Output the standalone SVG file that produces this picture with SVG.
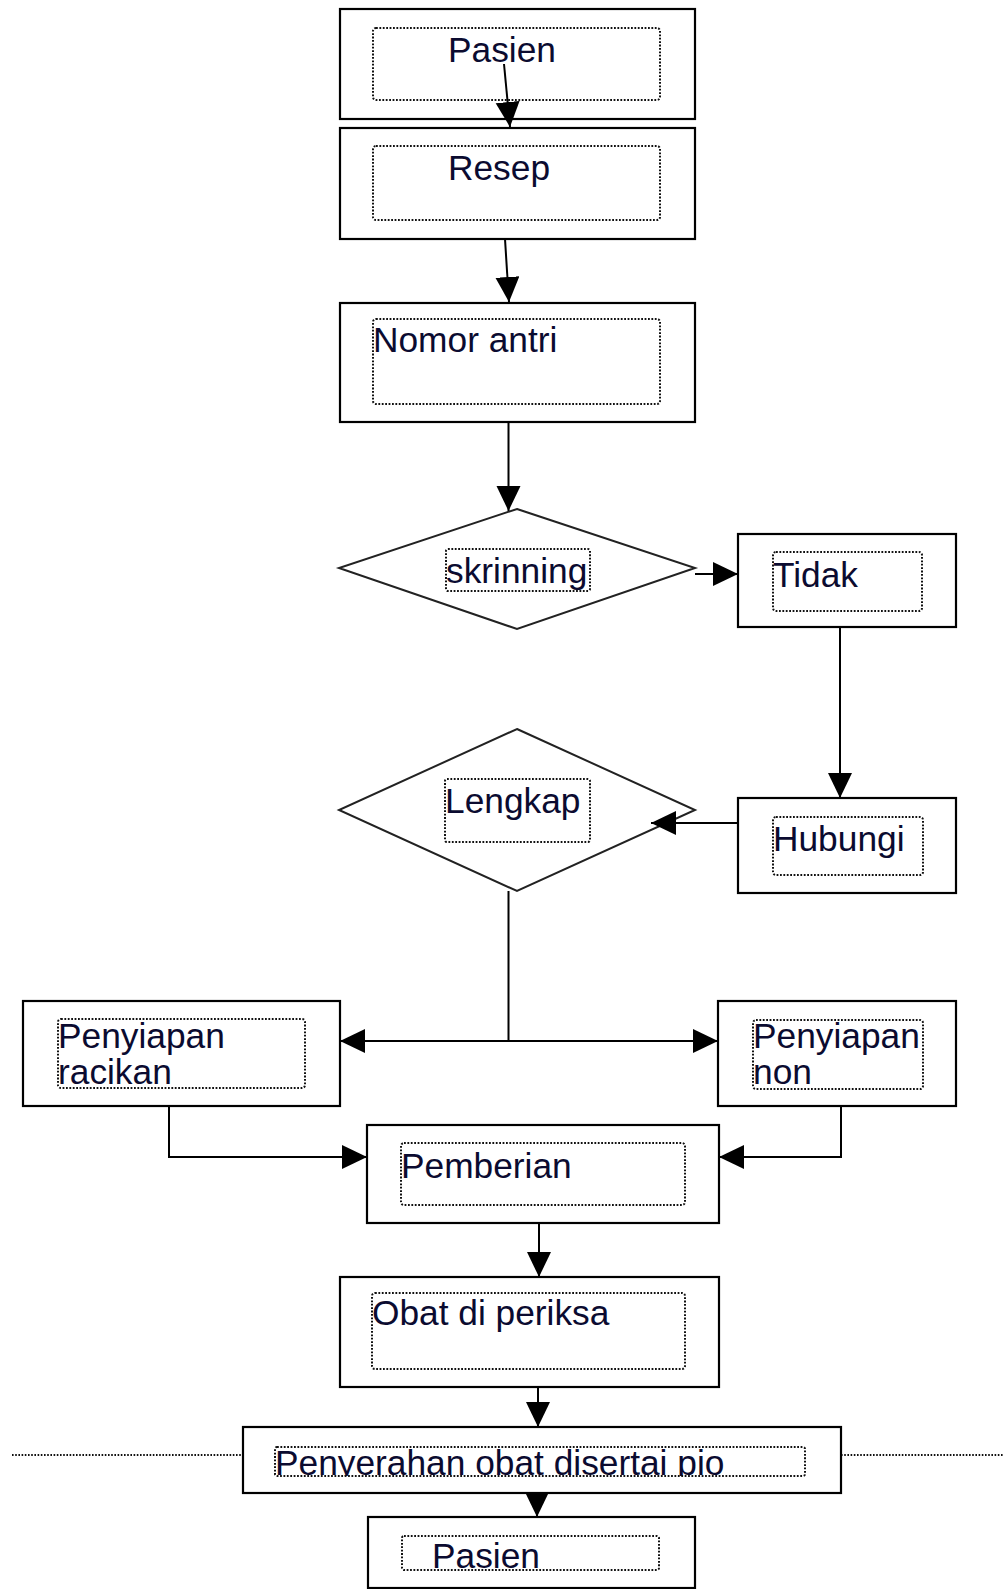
<svg xmlns="http://www.w3.org/2000/svg" width="1003" height="1589" viewBox="0 0 1003 1589">
<style>
.box{fill:#fff;stroke:#000;stroke-width:2.2}
.dia{fill:#fff;stroke:#222;stroke-width:2}
.inner{fill:none;stroke:#111;stroke-width:2;stroke-dasharray:1.8 1.6}
.t{font-family:"Liberation Sans",Arial,sans-serif;font-size:35.3px;fill:#0b0b30}
.c{fill:none;stroke:#000;stroke-width:2}
.guide{fill:none;stroke:#111;stroke-width:1.8;stroke-dasharray:1.6 1.6}
</style>
<defs>
<marker id="arr" markerUnits="userSpaceOnUse" markerWidth="26" markerHeight="26" viewBox="0 0 26 26" refX="25" refY="12" orient="auto">
<path d="M0,0 L25,12 L0,24 Z" fill="#000"/>
</marker>
<marker id="arrs" markerUnits="userSpaceOnUse" markerWidth="26" markerHeight="26" viewBox="0 0 26 26" refX="25" refY="12" orient="auto-start-reverse">
<path d="M0,0 L25,12 L0,24 Z" fill="#000"/>
</marker>
<clipPath id="clipPen"><rect x="270" y="1440" width="540" height="36"/></clipPath>
</defs>

<g id="guideline">
<line class="guide" x1="12" y1="1455" x2="243" y2="1455"/>
<line class="guide" x1="841" y1="1455" x2="1003" y2="1455"/>
</g>

<g id="n-pasien">
<rect class="box" x="340" y="9" width="355" height="110"/>
<rect class="inner" x="373" y="28" width="287" height="72" rx="3"/>
<text class="t" x="448" y="62">Pasien</text>
</g>
<g id="n-resep">
<rect class="box" x="340" y="128" width="355" height="111"/>
<rect class="inner" x="373" y="146" width="287" height="74" rx="3"/>
<text class="t" x="448" y="180">Resep</text>
</g>
<g id="n-nomor">
<rect class="box" x="340" y="303" width="355" height="119"/>
<rect class="inner" x="373" y="319" width="287" height="85" rx="3"/>
<text class="t" x="373" y="352">Nomor antri</text>
</g>
<g id="n-skrinning">
<polygon class="dia" points="517,509 695,568 517,629 339,568"/>
<rect class="inner" x="446" y="549" width="144" height="42" rx="2"/>
<text class="t" x="446" y="583">skrinning</text>
</g>
<g id="n-tidak">
<rect class="box" x="738" y="534" width="218" height="93"/>
<rect class="inner" x="773" y="552" width="149" height="59" rx="3"/>
<text class="t" x="773" y="587">Tidak</text>
</g>
<g id="n-lengkap">
<polygon class="dia" points="517,729 695,810 517,891 339,810"/>
<rect class="inner" x="445" y="779" width="145" height="63" rx="2"/>
<text class="t" x="445" y="813">Lengkap</text>
</g>
<g id="n-hubungi">
<rect class="box" x="738" y="798" width="218" height="95"/>
<rect class="inner" x="773" y="817" width="150" height="58" rx="3"/>
<text class="t" x="773" y="851">Hubungi</text>
</g>
<g id="n-racikan">
<rect class="box" x="23" y="1001" width="317" height="105"/>
<rect class="inner" x="58" y="1019" width="247" height="69" rx="3"/>
<text class="t" x="58" y="1048">Penyiapan</text>
<text class="t" x="58" y="1084">racikan</text>
</g>
<g id="n-non">
<rect class="box" x="718" y="1001" width="238" height="105"/>
<rect class="inner" x="753" y="1020" width="170" height="69" rx="3"/>
<text class="t" x="753" y="1048">Penyiapan</text>
<text class="t" x="753" y="1084">non</text>
</g>
<g id="n-pemberian">
<rect class="box" x="367" y="1125" width="352" height="98"/>
<rect class="inner" x="401" y="1143" width="284" height="62" rx="3"/>
<text class="t" x="401" y="1178">Pemberian</text>
</g>
<g id="n-obat">
<rect class="box" x="340" y="1277" width="379" height="110"/>
<rect class="inner" x="372" y="1293" width="313" height="76" rx="3"/>
<text class="t" x="372" y="1325">Obat di periksa</text>
</g>
<g id="n-penyerahan">
<rect class="box" x="243" y="1427" width="598" height="66"/>
<text class="t" x="275" y="1475" clip-path="url(#clipPen)">Penyerahan obat disertai pio</text>
<rect class="inner" x="275" y="1447" width="530" height="29" rx="2"/>
</g>
<g id="n-pasien2">
<rect class="box" x="368" y="1517" width="327" height="71"/>
<rect class="inner" x="402" y="1536" width="257" height="34" rx="2"/>
<text class="t" x="432" y="1568">Pasien</text>
</g>

<g id="connectors">
<line class="c" x1="504" y1="64" x2="510" y2="127" marker-end="url(#arr)"/>
<line class="c" x1="505" y1="239" x2="509" y2="302" marker-end="url(#arr)"/>
<line class="c" x1="508.5" y1="422" x2="508.5" y2="511" marker-end="url(#arr)"/>
<line class="c" x1="695" y1="574" x2="738" y2="574" marker-end="url(#arr)"/>
<line class="c" x1="840" y1="627" x2="840" y2="798" marker-end="url(#arr)"/>
<line class="c" x1="738" y1="823" x2="651" y2="823" marker-end="url(#arr)"/>
<line class="c" x1="508.5" y1="891" x2="508.5" y2="1041"/>
<line class="c" x1="340" y1="1041" x2="718" y2="1041" marker-start="url(#arrs)" marker-end="url(#arrs)"/>
<polyline class="c" points="169,1106 169,1157 367,1157" marker-end="url(#arr)"/>
<polyline class="c" points="841,1106 841,1157 719,1157" marker-end="url(#arr)"/>
<line class="c" x1="539" y1="1223" x2="539" y2="1277" marker-end="url(#arr)"/>
<line class="c" x1="538" y1="1387" x2="538" y2="1427" marker-end="url(#arr)"/>
<line class="c" x1="537" y1="1493" x2="537" y2="1517" marker-end="url(#arr)"/>
</g>
</svg>
